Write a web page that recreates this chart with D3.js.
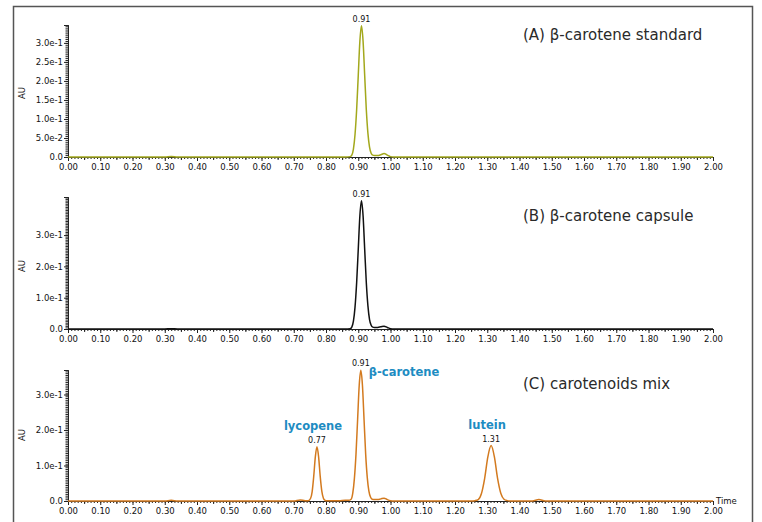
<!DOCTYPE html>
<html>
<head>
<meta charset="utf-8">
<script src="https://cdn.jsdelivr.net/npm/d3@7"></script>
<style>
  body { margin: 0; background: #fff; }
  text { font-family: "DejaVu Sans", Verdana, sans-serif; }
</style>
</head>
<body>
<script>
// three stacked chromatograms: standard, capsule, mix
// values as [time (min), AU]

var standardTrace = [
  [0.00, 0.000], [0.30, 0.000], [0.32, 0.001], [0.34, 0.000], [0.86, 0.000],
  [0.875, 0.001], [0.88, 0.005], [0.885, 0.021], [0.89, 0.059], [0.895, 0.124],
  [0.90, 0.214], [0.905, 0.304], [0.91, 0.345], [0.915, 0.304], [0.92, 0.214],
  [0.925, 0.124], [0.93, 0.062], [0.935, 0.026], [0.94, 0.010], [0.945, 0.005],
  [0.95, 0.004], [0.96, 0.004], [0.97, 0.006], [0.98, 0.009], [0.99, 0.005],
  [1.00, 0.001], [1.01, 0.000], [2.00, 0.000]
];

var capsuleTrace = [
  [0.00, 0.000], [0.30, 0.000], [0.32, 0.001], [0.34, 0.000], [0.86, 0.000],
  [0.875, 0.001], [0.88, 0.006], [0.885, 0.025], [0.89, 0.070], [0.895, 0.148],
  [0.90, 0.254], [0.905, 0.361], [0.91, 0.410], [0.915, 0.361], [0.92, 0.254],
  [0.925, 0.148], [0.93, 0.074], [0.935, 0.030], [0.94, 0.012], [0.945, 0.006],
  [0.95, 0.005], [0.96, 0.005], [0.97, 0.007], [0.98, 0.009], [0.99, 0.005],
  [1.00, 0.001], [1.01, 0.000], [2.00, 0.000]
];

var mixTrace = [
  [0.00, 0.000], [0.30, 0.000], [0.32, 0.002], [0.34, 0.000], [0.70, 0.000],
  [0.72, 0.003], [0.735, 0.001], [0.745, 0.001], [0.752, 0.007], [0.757, 0.026],
  [0.762, 0.070], [0.767, 0.125], [0.772, 0.153], [0.777, 0.125], [0.782, 0.070],
  [0.787, 0.028], [0.792, 0.008], [0.797, 0.002], [0.80, 0.001], [0.84, 0.001],
  [0.86, 0.002], [0.87, 0.002], [0.878, 0.005], [0.883, 0.022], [0.888, 0.063],
  [0.893, 0.132], [0.898, 0.229], [0.903, 0.326], [0.908, 0.368], [0.913, 0.326],
  [0.918, 0.229], [0.923, 0.132], [0.928, 0.066], [0.933, 0.028], [0.938, 0.011],
  [0.943, 0.005], [0.95, 0.004], [0.96, 0.004], [0.97, 0.006], [0.98, 0.008],
  [0.99, 0.004], [1.00, 0.001], [1.01, 0.000], [1.25, 0.000], [1.262, 0.001],
  [1.272, 0.004], [1.282, 0.021], [1.292, 0.064], [1.302, 0.125], [1.312, 0.156],
  [1.322, 0.125], [1.332, 0.064], [1.342, 0.022], [1.352, 0.005], [1.362, 0.001],
  [1.37, 0.000], [1.44, 0.000], [1.46, 0.004], [1.48, 0.000], [2.00, 0.000]
];

var xTickValues = [0, 0.1, 0.2, 0.3, 0.4, 0.5, 0.6, 0.7, 0.8, 0.9, 1.0,
                   1.1, 1.2, 1.3, 1.4, 1.5, 1.6, 1.7, 1.8, 1.9, 2.0];
var yTicksA = [0, 0.05, 0.10, 0.15, 0.20, 0.25, 0.30];
var yTicksB = [0, 0.1, 0.2, 0.3];
var yTicksC = [0, 0.1, 0.2, 0.3];

var titles = ["(A) \u03b2-carotene standard", "(B) \u03b2-carotene capsule", "(C) carotenoids mix"];

var peaksA = [{ t: 0.91, v: 0.345, label: "0.91" }];
var peaksB = [{ t: 0.91, v: 0.410, label: "0.91" }];
var peaksC = [
  { t: 0.772, v: 0.153, label: "0.77", name: "lycopene" },
  { t: 0.908, v: 0.368, label: "0.91", name: "\u03b2-carotene" },
  { t: 1.312, v: 0.156, label: "1.31", name: "lutein" }
];

var W = 762, H = 522;
var svg = d3.select('body').append('svg')
  .attr('width', W)
  .attr('height', H);

// outer frame (bottom edge runs off the page)
svg.append('path')
  .attr('d', 'M13.5,530 V6.5 H752.5 V530')
  .attr('fill', 'none')
  .attr('stroke', '#555')
  .attr('stroke-width', 1.5);

var x = d3.scaleLinear().domain([0, 2]).range([68, 713]);

var panels = [
  { trace: standardTrace, color: '#a3a81c', y0: 157, top: 25, ymax: 0.347, ticks: yTicksA, minor: 0.005,
    peaks: peaksA, title: titles[0], titleY: 40, auY: 93 },
  { trace: capsuleTrace, color: '#111111', y0: 329, top: 197, ymax: 0.4217, ticks: yTicksB, minor: 0.005,
    peaks: peaksB, title: titles[1], titleY: 221, auY: 266 },
  { trace: mixTrace, color: '#d37a1f', y0: 501, top: 370, ymax: 0.369, ticks: yTicksC, minor: 0.005,
    peaks: peaksC, title: titles[2], titleY: 389, auY: 435 }
];

function yFormat(d) {
  if (d === 0) return '0.0';
  return d3.format('.1e')(d);
}

panels.forEach(function (p, i) {
  var y = d3.scaleLinear().domain([0, p.ymax]).range([p.y0, p.top]);
  var g = svg.append('g');

  // x axis: minor, mid, major
  g.append('g')
    .attr('transform', 'translate(0,' + p.y0 + ')')
    .call(d3.axisBottom(x).tickValues(d3.range(0, 2.001, 0.01)).tickSize(2).tickFormat(''))
    .call(styleAxis);
  g.append('g')
    .attr('transform', 'translate(0,' + p.y0 + ')')
    .call(d3.axisBottom(x).tickValues(d3.range(0.05, 2, 0.1)).tickSize(3).tickFormat(''))
    .call(styleAxis);
  g.append('g')
    .attr('transform', 'translate(0,' + p.y0 + ')')
    .call(d3.axisBottom(x).tickValues(xTickValues).tickSize(4).tickPadding(3).tickFormat(d3.format('.2f')))
    .call(styleAxis);

  // y axis
  g.append('g')
    .attr('transform', 'translate(68,0)')
    .call(d3.axisLeft(y).tickValues(d3.range(0, p.ymax, p.minor)).tickSize(2.5).tickFormat(''))
    .call(styleAxis);
  g.append('g')
    .attr('transform', 'translate(68,0)')
    .call(d3.axisLeft(y).tickValues(p.ticks).tickSize(4).tickPadding(1).tickFormat(yFormat))
    .call(styleAxis);

  g.append('text')
    .attr('transform', 'translate(25,' + p.auY + ') rotate(-90)')
    .attr('text-anchor', 'middle')
    .attr('font-size', 8.5)
    .attr('fill', '#111')
    .text('AU');

  // trace
  var line = d3.line()
    .x(function (d) { return x(d[0]); })
    .y(function (d) { return y(d[1]); })
    .curve(d3.curveMonotoneX);

  g.append('path')
    .datum(p.trace)
    .attr('fill', 'none')
    .attr('stroke', p.color)
    .attr('stroke-width', 1.5)
    .attr('d', line);

  // retention time labels
  g.selectAll('.rt')
    .data(p.peaks)
    .enter()
    .append('text')
    .attr('x', function (d) { return x(d.t); })
    .attr('y', function (d) { return y(d.v) - 4; })
    .attr('text-anchor', 'middle')
    .attr('font-size', 8)
    .attr('fill', '#111')
    .text(function (d) { return d.label; });

  // compound names (mix only)
  var named = p.peaks.filter(function (d) { return d.name; });
  g.selectAll('.nm')
    .data(named)
    .enter()
    .append('text')
    .attr('x', function (d) { return d.t > 0.85 && d.t < 1 ? x(d.t) + 8 : x(d.t) - 4; })
    .attr('y', function (d) { return d.t > 0.85 && d.t < 1 ? y(d.v) + 6 : y(d.v) - 17; })
    .attr('text-anchor', function (d) { return d.t > 0.85 && d.t < 1 ? 'start' : 'middle'; })
    .attr('font-size', 11.5)
    .attr('font-weight', 'bold')
    .attr('fill', '#1d8cc2')
    .text(function (d) { return d.name; });

  g.append('text')
    .attr('x', 523)
    .attr('y', p.titleY)
    .attr('font-size', 15)
    .attr('fill', '#2a2a2a')
    .text(p.title);

  if (i === 2) {
    g.append('text')
      .attr('x', 716)
      .attr('y', p.y0 + 3)
      .attr('font-size', 8.5)
      .attr('fill', '#111')
      .text('Time');
  }
});

function styleAxis(sel) {
  sel.select('.domain').attr('stroke', '#222');
  sel.selectAll('.tick line').attr('stroke', '#222');
  sel.selectAll('.tick text')
    .attr('fill', '#111')
    .attr('font-size', 8.5)
    .attr('font-family', '"DejaVu Sans", Verdana, sans-serif');
  sel.attr('font-family', null);
}
</script>
</body>
</html>
